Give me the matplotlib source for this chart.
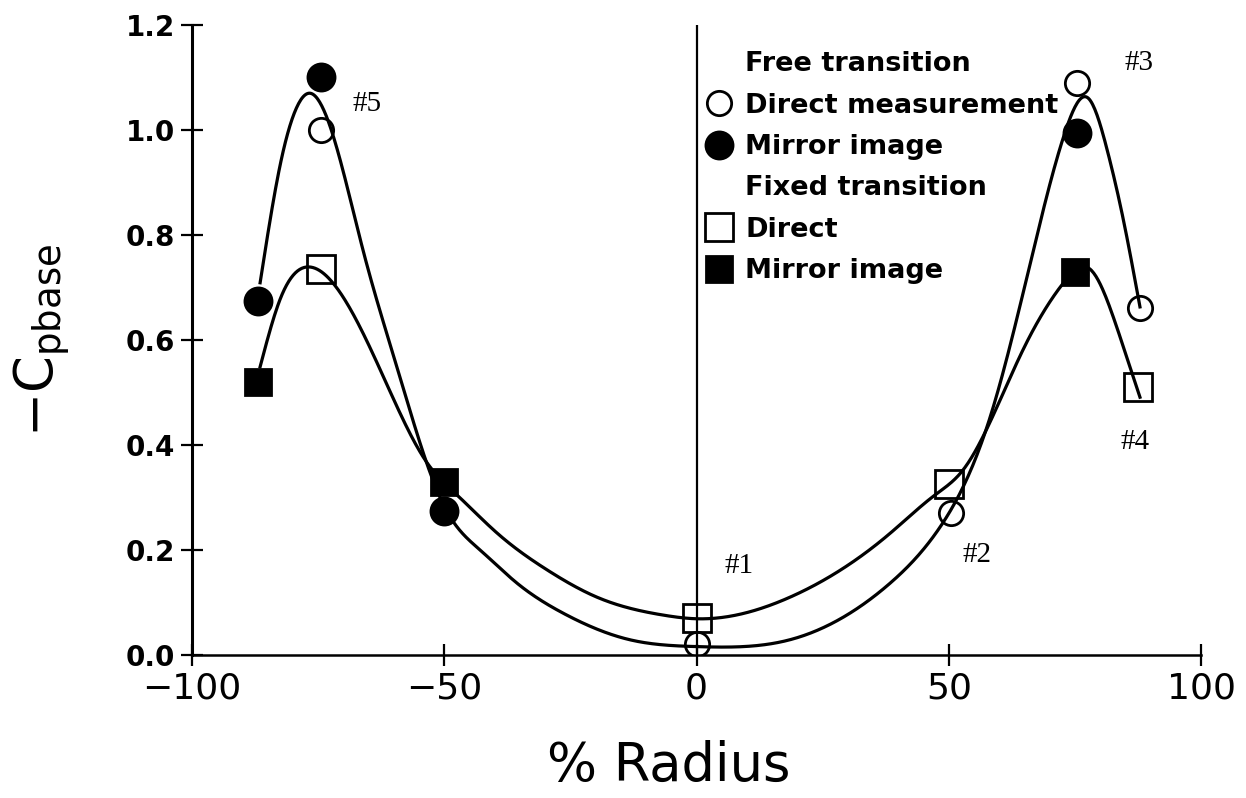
import numpy as np
import matplotlib
matplotlib.use("Agg")
import matplotlib.pyplot as plt
from matplotlib.lines import Line2D

# measured points (% radius, -Cp base)
free_direct_x = [-74.5, 0, 50.5, 75.5, 88]
free_direct_y = [1.0, 0.02, 0.27, 1.09, 0.66]
free_mirror_x = [-87, -74.5, -50, 75.5]
free_mirror_y = [0.675, 1.10, 0.275, 0.995]
fixed_direct_x = [-74.5, 0, 50, 87.5]
fixed_direct_y = [0.735, 0.07, 0.325, 0.51]
fixed_mirror_x = [-87, -50, 75]
fixed_mirror_y = [0.52, 0.33, 0.73]

# fitted curves
free_fit_x = [-86.5, -82.6, -79.2, -76.6, -72.6, -66.1, -59.4, -50, -42.9, -35.6, -26.5, -13.2, 0,
              18.5, 38.4, 48.3, 58.2, 66.0, 73.2, 77.6, 81.4, 84.5, 87.9]
free_fit_y = [0.709, 0.93, 1.044, 1.07, 1.006, 0.771, 0.549, 0.283, 0.2, 0.137, 0.080, 0.029, 0.016,
              0.029, 0.137, 0.244, 0.453, 0.74, 1.0, 1.061, 0.962, 0.834, 0.663]
fixed_fit_x = [-86.5, -82.6, -76.6, -72.1, -61.5, -53.4, -47.5, -39.5, -29.6, -19.7, -6.6, 0,
               18.5, 38.4, 47.3, 52.8, 64.7, 73.0, 78.0, 82.6, 85.9, 87.9]
fixed_fit_y = [0.549, 0.676, 0.739, 0.709, 0.518, 0.366, 0.305, 0.232, 0.162, 0.110, 0.076, 0.069,
               0.11, 0.232, 0.305, 0.352, 0.581, 0.712, 0.735, 0.644, 0.549, 0.491]

# point labels
tag_text = ['#1', '#2', '#3', '#4', '#5']
tag_x = [8.5, 55.5, 87.7, 87.0, -65.3]
tag_y = [0.17, 0.19, 1.128, 0.405, 1.05]


def smooth(xk, yk, n=800):
    # natural cubic spline through the fit points
    xk = np.asarray(xk, float)
    yk = np.asarray(yk, float)
    m = len(xk)
    h = np.diff(xk)
    A = np.zeros((m, m))
    r = np.zeros(m)
    A[0, 0] = A[-1, -1] = 1
    for i in range(1, m - 1):
        A[i, i - 1] = h[i - 1]
        A[i, i] = 2 * (h[i - 1] + h[i])
        A[i, i + 1] = h[i]
        r[i] = 6 * ((yk[i + 1] - yk[i]) / h[i] - (yk[i] - yk[i - 1]) / h[i - 1])
    M = np.linalg.solve(A, r)
    xs = np.linspace(xk[0], xk[-1], n)
    j = np.clip(np.searchsorted(xk, xs) - 1, 0, m - 2)
    t0 = xk[j + 1] - xs
    t1 = xs - xk[j]
    hj = h[j]
    ys = (M[j] * t0 ** 3 + M[j + 1] * t1 ** 3) / (6 * hj) \
        + (yk[j] / hj - M[j] * hj / 6) * t0 + (yk[j + 1] / hj - M[j + 1] * hj / 6) * t1
    return xs, ys


fig = plt.figure(figsize=(12.46, 7.98), dpi=100)
ax = fig.add_axes([0.1541, 0.1792, 0.8098, 0.7895])

lw = 2.3
ax.plot(*smooth(free_fit_x, free_fit_y), color='black', lw=lw, zorder=2)
ax.plot(*smooth(fixed_fit_x, fixed_fit_y), color='black', lw=lw, zorder=2)
ax.axvline(0, color='black', lw=1.6, zorder=1)

mew = 2.0
ax.plot(free_direct_x, free_direct_y, 'o', ms=17.5, mfc='none', mec='black', mew=mew, zorder=3)
ax.plot(free_mirror_x, free_mirror_y, 'o', ms=19.5, mfc='black', mec='black', mew=mew, zorder=3)
ax.plot(fixed_direct_x, fixed_direct_y, 's', ms=20, mfc='none', mec='black', mew=mew, zorder=3)
ax.plot(fixed_mirror_x, fixed_mirror_y, 's', ms=19, mfc='black', mec='black', mew=mew, zorder=3)

for t, x, y in zip(tag_text, tag_x, tag_y):
    ax.text(x, y, t, fontsize=21, family='Liberation Serif', ha='center', va='center')

ax.set_xlim(-100, 100)
ax.set_ylim(0, 1.2)
ax.set_xticks([-100, -50, 0, 50, 100])
ax.set_xticklabels(['\u2212100', '\u221250', '0', '50', '100'])
ax.set_yticks([0.0, 0.2, 0.4, 0.6, 0.8, 1.0, 1.2])
ax.set_yticklabels(['0.0', '0.2', '0.4', '0.6', '0.8', '1.0', '1.2'])
ax.tick_params(axis='x', direction='inout', length=16, width=1.6, labelsize=26, pad=4)
ax.tick_params(axis='y', direction='inout', length=16, width=1.6, labelsize=20, pad=4)
for lab in ax.get_yticklabels():
    lab.set_fontweight('bold')

for s in ['top', 'right']:
    ax.spines[s].set_visible(False)
ax.spines['left'].set_linewidth(2.2)
ax.spines['bottom'].set_linewidth(1.8)

ax.set_xlabel('% Radius', fontsize=38)
ax.xaxis.set_label_coords(0.472, -0.135)
ax.xaxis.label.set_verticalalignment('top')
ax.set_ylabel(r'$\mathregular{-C_{pbase}}$', fontsize=38, labelpad=38)

blank = Line2D([], [], linestyle='none')
handles = [
    blank,
    Line2D([], [], linestyle='none', marker='o', ms=17.5, mfc='none', mec='black', mew=mew),
    Line2D([], [], linestyle='none', marker='o', ms=19.5, mfc='black', mec='black', mew=mew),
    blank,
    Line2D([], [], linestyle='none', marker='s', ms=20, mfc='none', mec='black', mew=mew),
    Line2D([], [], linestyle='none', marker='s', ms=19, mfc='black', mec='black', mew=mew),
]
labels = ['Free transition', 'Direct measurement', 'Mirror image',
          'Fixed transition', 'Direct', 'Mirror image']
ax.legend(handles, labels, loc='upper left', bbox_to_anchor=(0.4955, 0.98),
          frameon=False, borderpad=0, handlelength=1.0, handletextpad=0.47,
          labelspacing=0.57, prop={'size': 19.5, 'weight': 'bold'})

fig.savefig('out.png', dpi=100)
